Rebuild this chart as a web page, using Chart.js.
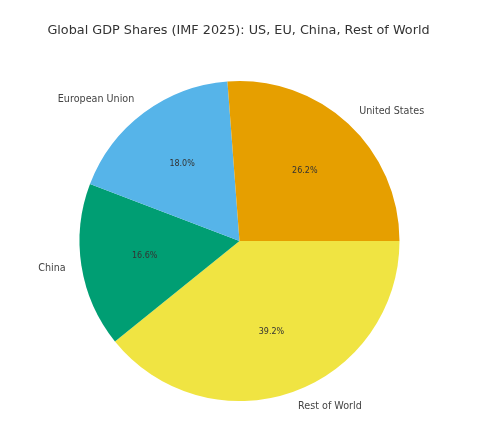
<!DOCTYPE html>
<html>
<head>
<meta charset="utf-8">
<script src="https://cdn.jsdelivr.net/npm/chart.js@4.4.1/dist/chart.umd.min.js"></script>
<style>
  html, body { margin: 0; padding: 0; background: #fff; }
  #wrap { width: 502px; height: 448px; position: relative; }
</style>
</head>
<body>
<div id="wrap"><canvas id="chart"></canvas></div>
<script>
// data, in the order matplotlib lays it out (counterclockwise from 3 o'clock)
const regions = ['United States', 'European Union', 'China', 'Rest of World'];
const shares = [26.2, 18.0, 16.6, 39.2];
const sliceColors = ['#E69F00', '#56B4E9', '#009E73', '#F0E442'];
const chartTitle = 'Global GDP Shares (IMF 2025): US, EU, China, Rest of World';

// Chart.js draws clockwise, so flip the order to get the same picture
const cjLabels = regions.slice().reverse();
const cjValues = shares.slice().reverse();
const cjColors = sliceColors.slice().reverse();

const FONT = '"DejaVu Sans", "Liberation Sans", sans-serif';

const pieText = {
  id: 'pieText',
  afterDatasetsDraw(chart) {
    const ctx = chart.ctx;
    const meta = chart.getDatasetMeta(0);
    const total = cjValues.reduce((a, b) => a + b, 0);
    ctx.save();
    // title
    ctx.fillStyle = '#333';
    ctx.font = '12.8px ' + FONT;
    ctx.textAlign = 'center';
    ctx.textBaseline = 'middle';
    ctx.fillText(chartTitle, 238.5, 31);

    meta.data.forEach((arc, i) => {
      const p = arc.getProps(['x', 'y', 'startAngle', 'endAngle', 'outerRadius'], true);
      const mid = (p.startAngle + p.endAngle) / 2;
      const cx = Math.cos(mid), cy = Math.sin(mid);
      // outer label
      ctx.font = '9.6px ' + FONT;
      ctx.fillStyle = '#444';
      ctx.textAlign = cx > 0 ? 'left' : 'right';
      ctx.fillText(cjLabels[i], p.x + cx * p.outerRadius * 1.1, p.y + cy * p.outerRadius * 1.1);
      // percentage
      ctx.font = '8px ' + FONT;
      ctx.fillStyle = '#333';
      ctx.textAlign = 'center';
      const pct = (cjValues[i] / total * 100).toFixed(1) + '%';
      ctx.fillText(pct, p.x + cx * p.outerRadius * 0.6, p.y + cy * p.outerRadius * 0.6);
    });
    ctx.restore();
  }
};

new Chart(document.getElementById('chart'), {
  type: 'pie',
  data: {
    labels: cjLabels,
    datasets: [{
      data: cjValues,
      backgroundColor: cjColors,
      borderWidth: 0,
      hoverOffset: 0
    }]
  },
  options: {
    responsive: true,
    maintainAspectRatio: false,
    animation: false,
    rotation: 90,
    layout: {
      padding: { left: 79.5, right: 102.5, top: 81, bottom: 47 }
    },
    plugins: {
      legend: { display: false },
      tooltip: { enabled: false },
      title: { display: false }
    }
  },
  plugins: [pieText]
});
</script>
</body>
</html>
